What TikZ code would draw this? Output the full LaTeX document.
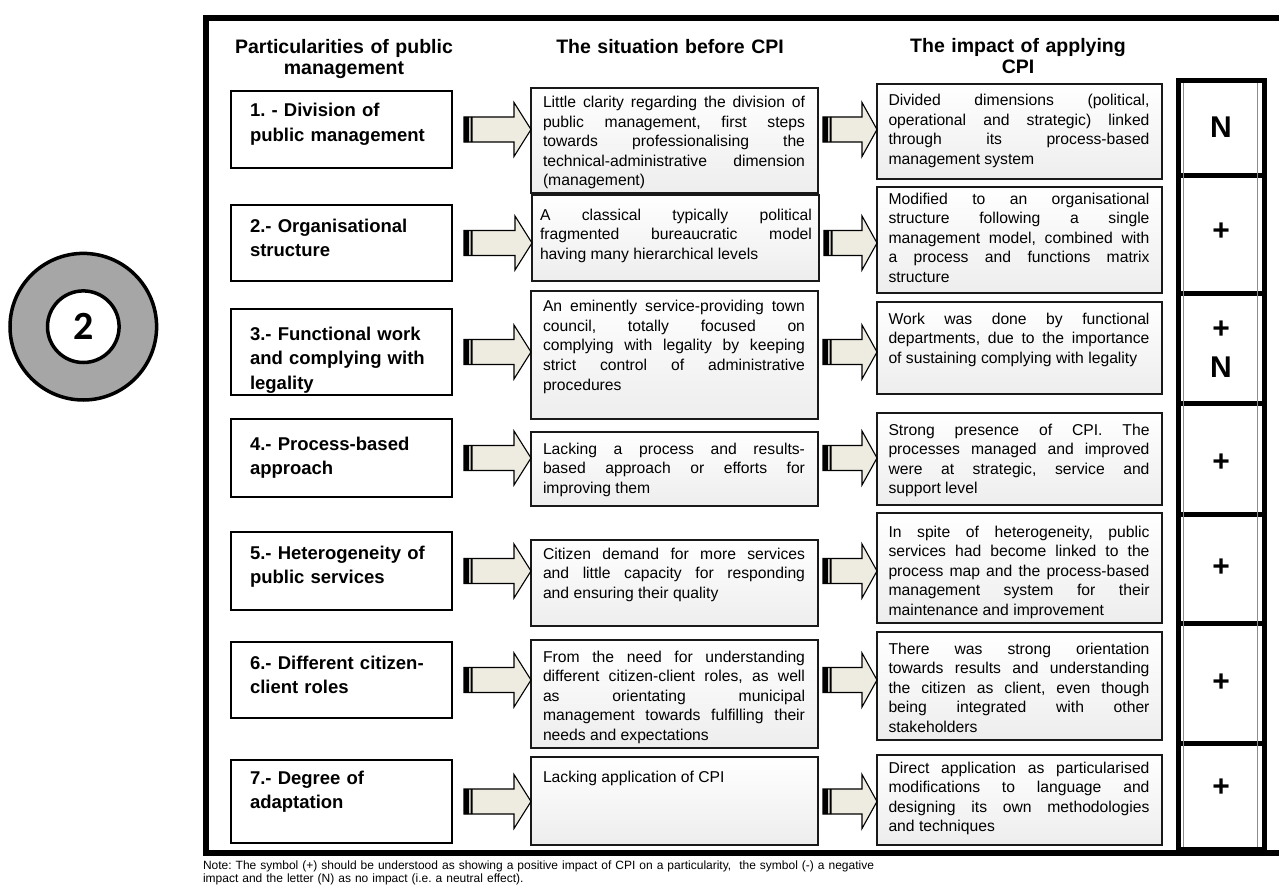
\documentclass[tikz,border=0pt]{standalone}
\usepackage{fontspec}
\setmainfont{Liberation Sans}
\newfontfamily\circfont{Carlito}
\usetikzlibrary{calc}
\definecolor{arrowtan}{HTML}{EEECE1}
\definecolor{circgray}{HTML}{A6A6A6}
\tikzset{
  lbox/.style={draw=black, line width=2.6pt, fill=white},
  gbox/.style={draw=black!90, line width=2.4pt, top color=white, bottom color=black!7},
  ltext/.style={anchor=base west, text width=200pt, align=left, font=\fontsize{18.5}{24.5}\selectfont\bfseries},
  btext/.style={anchor=base west, text width=262pt, align=justify,
     font=\fontsize{15.7}{19.6}\selectfont,
     execute at begin node={\tolerance=10000 \hbadness=10000 \hyphenpenalty=10000 }},
  hdr/.style={anchor=base, text width=300pt, align=center, font=\fontsize{19.5}{20.5}\selectfont\bfseries},
  cellbox/.style={draw=black, line width=5pt},
  sym/.style={font=\fontsize{30}{37}\selectfont\bfseries, align=center},
}
\newcommand\mybox[6]{\node[#1, minimum width={#5-#3}, minimum height={#6-#4}] (#2) at ({(#3+#5)/2},{(#4+#6)/2}) {};}
\newcommand\barrow[3]{%
  \draw[line width=1.1pt, fill=arrowtan] let \p1=#1, \p2=#2 in
   (\x1,\y1+12.5pt) -- (\x2-#3,\y1+12.5pt) -- (\x2-#3,\y1+27pt) -- (\x2,\y1)
   -- (\x2-#3,\y1-27pt) -- (\x2-#3,\y1-12.5pt) -- (\x1,\y1-12.5pt) -- cycle;
  \fill let \p1=#1 in (\x1,\y1+12.5pt) rectangle (\x1+5pt,\y1-12.5pt)
    (\x1+6.5pt,\y1+12.5pt) rectangle (\x1+8.5pt,\y1-12.5pt);}
\begin{document}
\frenchspacing
\begin{tikzpicture}[x=1pt,y=-1pt, every node/.style={inner sep=0pt, outer sep=0pt}]
\useasboundingbox (0,0) rectangle (1279,888);

% circle
\node[circle, draw, line width=3.5pt, fill=circgray, minimum size=146.6pt] (outer) at (83.3,326.7) {};
\node[circle, draw, line width=3.5pt, fill=white, minimum size=71.6pt,
      font={\circfont\bfseries\fontsize{40}{44}\selectfont}] (inner) at (outer.center) {2};

% frame
\draw[line width=6pt] (1279,18) -- (205.5,18) -- (205.5,853) -- (1279,853);

% headers
\node[hdr] (h1) at (344,54) {Particularities of public\\management};
\node[hdr] (h2) at (670,54) {The situation before CPI};
\node[hdr] (h3) at (1018,53) {The impact of applying\\CPI};

% left boxes
\mybox{lbox}{l1}{231}{91}{452}{168}
\mybox{lbox}{l2}{231}{205}{452}{281}
\mybox{lbox}{l3}{231}{309}{452}{395}
\mybox{lbox}{l4}{231}{419}{452}{497}
\mybox{lbox}{l5}{231}{532}{452}{610}
\mybox{lbox}{l6}{231}{642}{452}{718}
\mybox{lbox}{l7}{231}{760}{452}{843}
\node[ltext] (l1t) at (250,117) {1. - Division of\\public management};
\node[ltext] (l2t) at (250,232) {2.- Organisational\\structure};
\node[ltext] (l3t) at (250,340) {3.- Functional work\\and complying with\\legality};
\node[ltext] (l4t) at (250,450) {4.- Process-based\\approach};
\node[ltext] (l5t) at (250,559) {5.- Heterogeneity of\\public services};
\node[ltext] (l6t) at (250,669) {6.- Different citizen-\\client roles};
\node[ltext] (l7t) at (250,784) {7.- Degree of\\adaptation};

% middle boxes
\mybox{gbox}{m1}{531}{88}{818}{193}
\mybox{gbox}{m2}{532}{195}{819}{281}
\mybox{gbox}{m3}{531}{291}{818}{419}
\mybox{gbox}{m4}{531}{432}{818}{506}
\mybox{gbox}{m5}{531}{540}{818}{626}
\mybox{gbox}{m6}{531}{640}{818}{748}
\mybox{gbox}{m7}{531}{757}{818}{845}
\node[btext] (m1t) at (543,107.6) {Little clarity regarding the division of\linebreak public management, first steps\linebreak towards professionalising the\linebreak technical-administrative dimension\linebreak (management)};
\node[btext, text width=272pt] (m2t) at (540,220) {A classical typically political\linebreak fragmented bureaucratic model\linebreak having many hierarchical levels};
\node[btext] (m3t) at (543,311.7) {An eminently service-providing town\linebreak council, totally focused on\linebreak complying with legality by keeping\linebreak strict control of administrative\linebreak procedures};
\node[btext] (m4t) at (543,454) {Lacking a process and results-\linebreak based approach or efforts for\linebreak improving them};
\node[btext] (m5t) at (543,559) {Citizen demand for more services\linebreak and little capacity for responding\linebreak and ensuring their quality};
\node[btext] (m6t) at (543,662) {From the need for understanding\linebreak different citizen-client roles, as well\linebreak as orientating municipal\linebreak management towards fulfilling their\linebreak needs and expectations};
\node[btext] (m7t) at (543,782) {Lacking application of CPI};

% right boxes
\mybox{gbox}{r1}{877}{84}{1162}{179}
\mybox{gbox}{r2}{877}{187}{1162}{293}
\mybox{gbox}{r3}{877}{302}{1162}{394}
\mybox{gbox}{r4}{877}{413}{1162}{505}
\mybox{gbox}{r5}{877}{513}{1162}{623}
\mybox{gbox}{r6}{877}{632}{1162}{740}
\mybox{gbox}{r7}{877}{755}{1162}{845}
\node[btext, text width=261pt] (r1t) at (888.5,105.5) {Divided dimensions (political,\linebreak operational and strategic) linked\linebreak through its process-based\linebreak management system};
\node[btext, text width=261pt] (r2t) at (888.5,204) {Modified to an organisational\linebreak structure following a single\linebreak management model, combined with\linebreak a process and functions matrix\linebreak structure};
\node[btext, text width=261pt] (r3t) at (888.5,324) {Work was done by functional\linebreak departments, due to the importance\linebreak of sustaining complying with legality};
\node[btext, text width=261pt] (r4t) at (888.5,435) {Strong presence of CPI. The\linebreak processes managed and improved\linebreak were at strategic, service and\linebreak support level};
\node[btext, text width=261pt] (r5t) at (888.5,537) {In spite of heterogeneity, public\linebreak services had become linked to the\linebreak process map and the process-based\linebreak management system for their\linebreak maintenance and improvement};
\node[btext, text width=261pt] (r6t) at (888.5,654) {There was strong orientation\linebreak towards results and understanding\linebreak the citizen as client, even though\linebreak being integrated with other\linebreak stakeholders};
\node[btext, text width=261pt] (r7t) at (888.5,773) {Direct application as particularised\linebreak modifications to language and\linebreak designing its own methodologies\linebreak and techniques};

% arrows
\foreach \i in {1,...,7}{
  \barrow{($(l\i.east)+(12,0)$)}{(m\i.west |- l\i.east)}{17pt}
  \barrow{($(m\i.east |- l\i.east)+(5,0)$)}{(r\i.west |- l\i.east)}{15pt}
}

% impact column
\mybox{cellbox}{c1}{1178}{80.5}{1264}{175}
\mybox{cellbox}{c2}{1178}{175}{1264}{293}
\mybox{cellbox}{c3}{1178}{293}{1264}{403}
\mybox{cellbox}{c4}{1178}{403}{1264}{514}
\mybox{cellbox}{c5}{1178}{514}{1264}{623}
\mybox{cellbox}{c6}{1178}{623}{1264}{743}
\mybox{cellbox}{c7}{1178}{743}{1264}{849}
\draw[black!45, line width=0.9pt] ($(c1.north west)+(5.5,2.5)$) -- ($(c7.south west)+(5.5,-2.5)$);
\draw[black!45, line width=0.9pt] ($(c1.north east)+(-6.5,2.5)$) -- ($(c7.south east)+(-6.5,-2.5)$);
\node[sym] (s1) at (1221,127) {N};
\node[sym] (s2) at (1221,232) {+};
\node[sym] (s3a) at (1221,330) {+};
\node[sym] (s3b) at (1221,367) {N};
\node[sym] (s4) at (1221,463) {+};
\node[sym] (s5) at (1221,568) {+};
\node[sym] (s6) at (1221,683) {+};
\node[sym] (s7) at (1221,788) {+};

% note
\node[anchor=base west, text width=800pt, align=left, font=\fontsize{12}{13}\selectfont] (note) at (203,869)
  {Note: The symbol (+) should be understood as showing a positive impact of CPI on a particularity,\ \ the symbol (-) a negative\\impact and the letter (N) as no impact (i.e. a neutral effect).};
\end{tikzpicture}
\end{document}
